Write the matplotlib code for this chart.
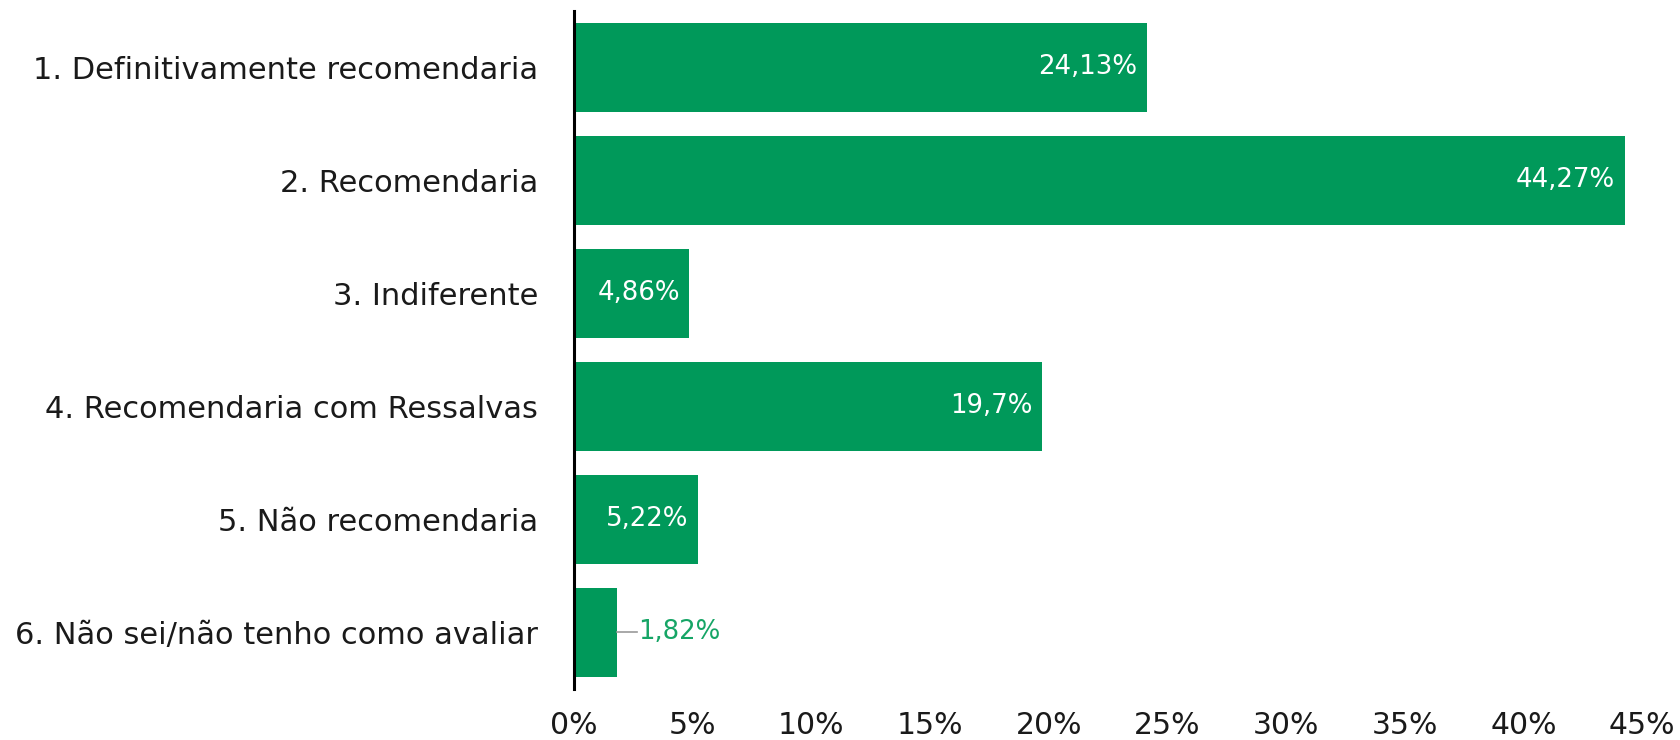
import matplotlib
matplotlib.use("Agg")
import matplotlib.pyplot as plt
from matplotlib.ticker import MultipleLocator, FuncFormatter

categories = [
    "1. Definitivamente recomendaria",
    "2. Recomendaria",
    "3. Indiferente",
    "4. Recomendaria com Ressalvas",
    "5. Não recomendaria",
    "6. Não sei/não tenho como avaliar",
]
values = [24.13, 44.27, 4.86, 19.7, 5.22, 1.82]
value_labels = ["24,13%", "44,27%", "4,86%", "19,7%", "5,22%", "1,82%"]

BAR_COLOR = "#00995A"
OUT_TEXT = "#16A566"

plt.rcParams["font.family"] = ["DejaVu Sans"]

fig = plt.figure(figsize=(16.81, 7.40), dpi=100)
ax = fig.add_axes([0.3415, 0.069, 0.6353, 0.9166])

y = list(range(len(categories)))
ax.barh(y, values, height=0.79, color=BAR_COLOR, zorder=2)

ax.set_ylim(5.5, -0.5)
ax.set_xlim(0, 45)
ax.set_yticks(y)
ax.set_yticklabels(categories, fontsize=22, color="#1a1a1a")
ax.xaxis.set_major_locator(MultipleLocator(5))
ax.xaxis.set_major_formatter(FuncFormatter(lambda v, p: f"{v:.0f}%"))
ax.tick_params(axis="y", length=0, pad=26)
ax.tick_params(axis="x", length=0, pad=16, labelsize=21.5, labelcolor="#1a1a1a")

for s in ["top", "right", "bottom"]:
    ax.spines[s].set_visible(False)
ax.spines["left"].set_linewidth(2.2)
ax.spines["left"].set_color("#000000")
ax.spines["left"].set_zorder(3)

# value labels: inside the bar, or outside with a short leader line if too short
for yi, v, lab in zip(y, values, value_labels):
    if v > 3:
        ax.text(v - 0.4, yi, lab, ha="right", va="center", color="white",
                fontsize=18.7)
    else:
        ax.plot([v, v + 0.85], [yi, yi], color="#999999", lw=1.2, zorder=3)
        ax.text(v + 0.9, yi, lab, ha="left", va="center", color=OUT_TEXT,
                fontsize=18.7)

fig.savefig("out.png", dpi=100, facecolor="white")
